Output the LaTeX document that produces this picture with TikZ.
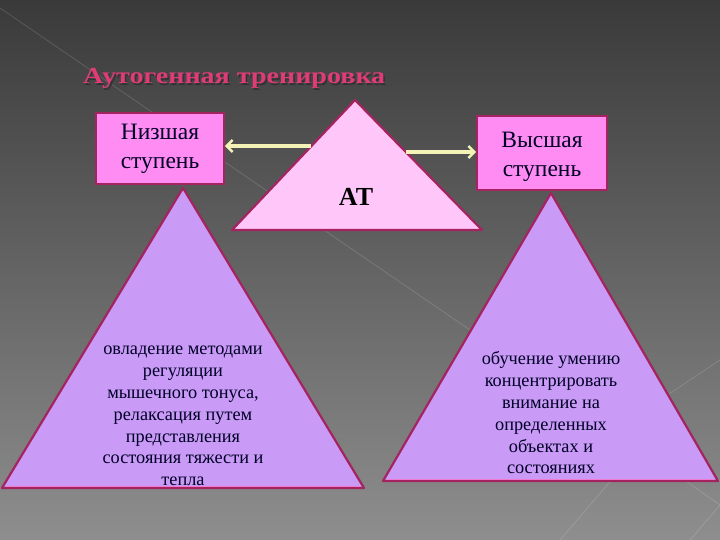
\documentclass[tikz,border=0pt]{standalone}
\usepackage{fontspec}
\setmainfont{Liberation Serif}[BoldFont={Liberation Serif Bold}]
\usetikzlibrary{arrows.meta,calc}
\definecolor{bgtop}{HTML}{3A3A3A}
\definecolor{bgbot}{HTML}{8E8E8E}
\definecolor{boxfill}{HTML}{FF8CF2}
\definecolor{edge}{HTML}{A3245E}
\definecolor{atfill}{HTML}{FFC6FA}
\definecolor{trifill}{HTML}{C99AF6}
\definecolor{arrowcol}{HTML}{F4F2B6}
\definecolor{titlecol}{HTML}{DE3C76}
\definecolor{innerpink}{HTML}{F07AD0}
\tikzset{
  stepbox/.style={draw=edge, line width=1.6pt, fill=boxfill, minimum width=128pt, minimum height=71pt, align=center, font=\fontsize{23.5}{29}\selectfont, inner sep=0pt, text=black!85!blue},
  tri/.style={draw=edge, line width=2.2pt, fill=trifill, line join=round},
  triinner/.style={draw=innerpink, line width=0.6pt},
  linkarrow/.style={draw=arrowcol, line width=3.5pt, -{Straight Barb[length=6pt,width=12pt,line width=2.5pt]}},
  tritext/.style={align=center, font=\fontsize{18.3}{21.8}\selectfont, text=black!85!blue},
  titletext/.style={font=\fontsize{23}{26}\bfseries, anchor=west, inner sep=0pt},
  bgline/.style={draw=white, opacity=0.14, line width=0.8pt}
}
\begin{document}
\begin{tikzpicture}[x=1pt,y=-1pt]
\useasboundingbox (0,0) rectangle (720,540);
\shade[top color=bgtop, bottom color=bgbot] (0,0) rectangle (720,540);
% faint diagonal background lines
\draw[bgline] (0,8) -- (470,330) -- (720,505);
\draw[bgline] (690,540) -- (720,505);
\draw[bgline] (560,540) -- (620,470);
\draw[bgline] (660,400) -- (720,360);
% title
\node[titletext, text=black!80] (titleshadow) at (84.5,80) {\scalebox{1.22}[1]{Аутогенная тренировка}};
\node[titletext, text=titlecol] (title) at (83,78.5) {\scalebox{1.22}[1]{Аутогенная тренировка}};
% big triangles
\coordinate (la) at (183,188);
\coordinate (lb) at (2,488);
\coordinate (lc) at (364,488);
\draw[tri] (la) -- (lb) -- (lc) -- cycle;
\draw[triinner] ($(lb)+(4,-1.5)$) -- ($(lc)+(-4,-1.5)$);
\coordinate (ra) at (551,193);
\coordinate (rb) at (383,481);
\coordinate (rc) at (718,481);
\draw[tri] (ra) -- (rb) -- (rc) -- cycle;
\draw[triinner] ($(rb)+(4,-1.5)$) -- ($(rc)+(-4,-1.5)$);
% AT triangle
\coordinate (aa) at (355,100);
\coordinate (ab) at (232,230);
\coordinate (ac) at (482,230);
\draw[tri, fill=atfill] (aa) -- (ab) -- (ac) -- cycle;
\node[font=\fontsize{26}{30}\bfseries] (at) at (356,197) {AT};
% boxes
\node[stepbox] (low) at (160,148.5) {Низшая\\ступень};
\node[stepbox, minimum width=130pt, minimum height=74pt] (high) at (542,153) {};
\node[align=center, font=\fontsize{23.5}{29}\selectfont, text=black!85!blue] (hightext) at (542,157) {Высшая\\ступень};
% arrows
\coordinate (al) at ($(aa)!0.354!(ab)$);
\coordinate (ar) at ($(aa)!0.40!(ac)$);
\draw[linkarrow] (al) -- (low.east |- al);
\draw[linkarrow] (ar) -- (high.west |- ar);
% texts
\node[tritext] (ltext) at (183,416) {овладение методами\\регуляции\\мышечного тонуса,\\релаксация путем\\представления\\состояния тяжести и\\тепла};
\node[tritext] (rtext) at (551,413) {обучение умению\\концентрировать\\внимание на\\определенных\\объектах и\\состояниях};
\end{tikzpicture}
\end{document}
